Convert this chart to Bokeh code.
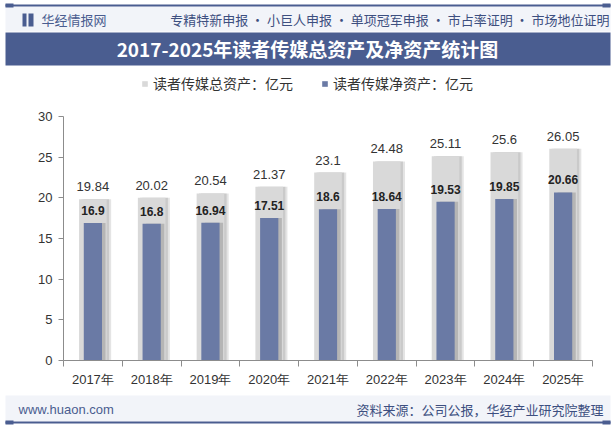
from bokeh.plotting import figure
from bokeh.models import (ColumnDataSource, Range1d, FixedTicker, LabelSet, Label,
                          BoxAnnotation, Legend, LegendItem)
from bokeh.core.properties import value
from bokeh.transform import dodge
from bokeh.embed import file_html
from bokeh.resources import INLINE

# ---------------- data ----------------
years = ["2017年", "2018年", "2019年", "2020年", "2021年", "2022年", "2023年", "2024年", "2025年"]
total_assets = [19.84, 20.02, 20.54, 21.37, 23.1, 24.48, 25.11, 25.6, 26.05]
net_assets = [16.9, 16.8, 16.94, 17.51, 18.6, 18.64, 19.53, 19.85, 20.66]
y_ticks = [0, 5, 10, 15, 20, 25, 30]
series_names = ["读者传媒总资产：亿元", "读者传媒净资产：亿元"]
title_text = "2017-2025年读者传媒总资产及净资产统计图"
header_left = "华经情报网"
header_right = "专精特新申报 · 小巨人申报 · 单项冠军申报 · 市占率证明 · 市场地位证明"
footer_left = "www.huaon.com"
footer_right = "资料来源：公司公报，华经产业研究院整理"

# ---------------- layout ----------------
W, H = 615, 427
FL, FR, FT, FB = 63, 592, 116, 360   # pixel box of the value area

GRAY = "#d9d9d9"
BLUE = "#6a7aa5"
NAVY = "#4a5d90"
FONT = "Liberation Sans"
CJK = "Noto Sans CJK SC"

n = len(years)
x_lo, x_hi = -0.5, n - 0.5
y_lo, y_hi = y_ticks[0], y_ticks[-1]
ppx = (FR - FL) / (x_hi - x_lo)
ppy = (FB - FT) / (y_hi - y_lo)

src = ColumnDataSource(dict(
    x=list(range(n)),
    total=total_assets,
    net=net_assets,
    total_lbl=[str(v) for v in total_assets],
    net_lbl=[str(v) for v in net_assets],
))

p = figure(width=W, height=H, output_backend="svg", toolbar_location=None, title=None,
           x_range=Range1d(x_lo - FL / ppx, x_hi + (W - FR) / ppx),
           y_range=Range1d(y_lo - (H - FB) / ppy, y_hi + FT / ppy),
           min_border=0)
p.outline_line_color = None
p.grid.visible = False
p.background_fill_color = "white"
p.border_fill_color = "white"

# shadows + bars
p.vbar(x=dodge("x", 0.075, range=p.x_range), top="total", bottom=y_lo, width=0.47, source=src,
       fill_color="#c4c4c4", fill_alpha=0.45, line_color=None)
p.vbar(x=dodge("x", 0.04, range=p.x_range), top="total", bottom=y_lo, width=0.47, source=src,
       fill_color="#b0b0b0", fill_alpha=0.5, line_color=None)
r_total = p.vbar(x="x", top="total", bottom=y_lo, width=0.47, source=src,
                 fill_color=GRAY, line_color=None)
p.vbar(x=dodge("x", 0.06, range=p.x_range), top="net", bottom=y_lo, width=0.31, source=src,
       fill_color="#8a8a8a", fill_alpha=0.45, line_color=None)
r_net = p.vbar(x="x", top="net", bottom=y_lo, width=0.31, source=src,
               fill_color=BLUE, line_color=None)

p.add_layout(LabelSet(x="x", y="total", text="total_lbl", source=src, y_offset=8,
                      text_align="center", text_baseline="bottom",
                      text_font=value(FONT), text_font_size=value("13px"),
                      text_color="#333333"))
p.add_layout(LabelSet(x="x", y="net", text="net_lbl", source=src, y_offset=8,
                      text_align="center", text_baseline="bottom",
                      text_font=value(FONT), text_font_size=value("12px"),
                      text_font_style="bold", text_color="#222222"))

# axes (fixed inside the full-canvas frame)
xa = p.xaxis[0]
xa.fixed_location = y_lo
xa.bounds = (x_lo, x_hi)
xa.ticker = FixedTicker(ticks=list(range(n)),
                        minor_ticks=[i - 0.5 for i in range(n + 1)])
xa.major_label_overrides = {i: y for i, y in enumerate(years)}
xa.major_tick_out = 0
xa.major_tick_in = 0
xa.minor_tick_out = 6
xa.minor_tick_in = 0
xa.minor_tick_line_color = "#8c8c8c"
xa.axis_line_color = "#8c8c8c"
xa.major_label_standoff = 5
xa.major_label_text_font = FONT
xa.major_label_text_font_size = "13px"
xa.major_label_text_color = "#333333"

ya = p.yaxis[0]
ya.fixed_location = x_lo
ya.bounds = (y_lo, y_hi)
ya.ticker = FixedTicker(ticks=y_ticks)
ya.major_tick_out = 5
ya.major_tick_in = 0
ya.minor_tick_line_color = None
ya.major_tick_line_color = "#8c8c8c"
ya.axis_line_color = "#8c8c8c"
ya.major_label_standoff = 6
ya.major_label_text_font = FONT
ya.major_label_text_font_size = "13px"
ya.major_label_text_color = "#333333"

# legend
legend = Legend(items=[LegendItem(label=series_names[0], renderers=[r_total]),
                       LegendItem(label=series_names[1], renderers=[r_net])],
                orientation="horizontal", location=(141, H - 93),
                glyph_width=7, glyph_height=7, label_standoff=5, spacing=28,
                padding=0, margin=0, border_line_color=None, background_fill_alpha=0,
                label_text_font=CJK, label_text_font_size="14px", label_text_color="#333333",
                label_height=17)
p.add_layout(legend)


# ---------------- decorations (canvas px from top-left -> frame screen units) ----------------
def box(x0, y0, x1, y1, color):
    p.add_layout(BoxAnnotation(left=x0, right=x1, top=H - y0, bottom=H - y1,
                               left_units="screen", right_units="screen",
                               top_units="screen", bottom_units="screen",
                               fill_color=color, fill_alpha=1, line_color=None, level="underlay"))


def label(x, y, text, size, color, align="left", style="normal", font=CJK):
    p.add_layout(Label(x=x, y=H - y, x_units="screen", y_units="screen", text=text,
                       text_align=align, text_baseline="middle", text_font=font,
                       text_font_size=size, text_color=color, text_font_style=style))


# header
box(5, 6, 610, 31, "#f2f4f9")
box(5, 4, 610, 6, NAVY)
box(5, 3, 13, 7, NAVY)
box(602, 3, 610, 7, NAVY)
box(22, 13, 26, 26, NAVY)
box(28, 13, 33, 26, NAVY)
label(41, 19, header_left, "13px", NAVY)
label(609, 19, header_right, "13px", "#3d4f80", align="right")
# title band
box(5, 32, 610, 65, NAVY)
label(307, 48, title_text, "19px", "white", align="center", style="bold")
# footer
box(5, 395, 610, 421, "#f2f4f9")
box(5, 421, 610, 423, NAVY)
box(5, 420, 13, 424, NAVY)
box(602, 420, 610, 424, NAVY)
label(18, 409, footer_left, "13px", NAVY, font=FONT)
label(603, 409, footer_right, "13px", "#3d4f80", align="right")

open("out.html", "w").write(file_html(p, INLINE))
